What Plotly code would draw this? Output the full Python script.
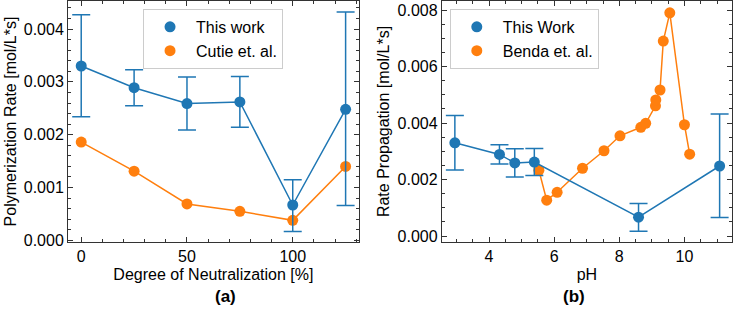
import plotly.graph_objects as go

# ---- data ----
neutralization = [0, 25, 50, 75, 100, 125]
this_work_rate = [0.00330, 0.00289, 0.00259, 0.00262, 0.00067, 0.00248]
this_work_upper = [0.00427, 0.00323, 0.00309, 0.00310, 0.00115, 0.00432]
this_work_lower = [0.00234, 0.00255, 0.00209, 0.00214, 0.00017, 0.00066]
cutie_rate = [0.00186, 0.00131, 0.00069, 0.00055, 0.00038, 0.00140]

this_work_ph = [2.95, 4.32, 4.79, 5.39, 8.59, 11.08]
benda_ph = [5.53, 5.77, 6.09, 6.87, 7.53, 8.02, 8.66, 8.81, 9.11, 9.12, 9.25, 9.35, 9.55, 10.0, 10.16]
benda_rate = [0.00233, 0.00127, 0.00155, 0.00240, 0.00302, 0.00355, 0.00385, 0.00399,
              0.00461, 0.00482, 0.00517, 0.00690, 0.00790, 0.00394, 0.00290]

BLUE = "#1f77b4"
ORANGE = "#ff7f0e"
FONT = "Liberation Sans, Arial, sans-serif"

err_plus = [u - v for u, v in zip(this_work_upper, this_work_rate)]
err_minus = [v - l for v, l in zip(this_work_rate, this_work_lower)]

fig = go.Figure()

def err():
    return dict(type="data", array=err_plus, arrayminus=err_minus, color=BLUE,
                thickness=1.5, width=9, visible=True)

# left panel
fig.add_trace(go.Scatter(x=neutralization, y=cutie_rate, mode="lines+markers",
                         line=dict(color=ORANGE, width=1.5), marker=dict(color=ORANGE, size=11),
                         showlegend=False, xaxis="x", yaxis="y"))
fig.add_trace(go.Scatter(x=neutralization, y=this_work_rate, mode="lines+markers",
                         line=dict(color=BLUE, width=1.5), marker=dict(color=BLUE, size=11),
                         error_y=err(), showlegend=False, xaxis="x", yaxis="y"))
# right panel
fig.add_trace(go.Scatter(x=benda_ph, y=benda_rate, mode="lines+markers",
                         line=dict(color=ORANGE, width=1.5), marker=dict(color=ORANGE, size=11),
                         showlegend=False, xaxis="x2", yaxis="y2"))
fig.add_trace(go.Scatter(x=this_work_ph, y=this_work_rate, mode="lines+markers",
                         line=dict(color=BLUE, width=1.5), marker=dict(color=BLUE, size=11),
                         error_y=err(), showlegend=False, xaxis="x2", yaxis="y2"))

# legend entries (markers only)
for name, col, lg in [("This work", BLUE, "legend"), ("Cutie et. al.", ORANGE, "legend"),
                      ("This Work", BLUE, "legend2"), ("Benda et. al.", ORANGE, "legend2")]:
    fig.add_trace(go.Scatter(x=[None], y=[None], mode="markers", name=name,
                             marker=dict(color=col, size=11), legend=lg,
                             xaxis="x" if lg == "legend" else "x2",
                             yaxis="y" if lg == "legend" else "y2"))

AX = "#333333"
def axis(**kw):
    d = dict(showline=True, linecolor=AX, linewidth=1, mirror="ticks", ticks="inside",
             ticklen=5, tickwidth=1, tickcolor=AX, showgrid=False, zeroline=False,
             tickfont=dict(size=16, color="black", family=FONT),
             title_font=dict(size=16, color="black", family=FONT),
             minor=dict(ticks="inside", ticklen=3, tickwidth=1, tickcolor=AX, showgrid=False))
    for k, v in kw.items():
        if k == "minor":
            d["minor"].update(v)
        else:
            d[k] = v
    return d

L0, L1 = 0.0, 0.438
R0, R1 = 0.563, 1.0

fig.update_layout(
    width=734, height=313,
    margin=dict(l=68, r=2, t=1, b=71),
    plot_bgcolor="white", paper_bgcolor="white",
    font=dict(family=FONT, size=16, color="black"),
    xaxis=axis(domain=[L0, L1], range=[-6.25, 131.25], tick0=0, dtick=50,
               minor=dict(dtick=10), title=dict(text="Degree of Neutralization [%]", standoff=4),
               anchor="y"),
    yaxis=axis(domain=[0, 1], range=[-0.00003, 0.00453], tick0=0, dtick=0.001, tickformat=".3f",
               minor=dict(dtick=0.0002), title=dict(text="Polymerization Rate [mol/L*s]", standoff=3),
               anchor="x"),
    xaxis2=axis(domain=[R0, R1], range=[2.55, 11.46], tick0=0, dtick=2,
                minor=dict(dtick=0.5), title=dict(text="pH", standoff=4), anchor="y2"),
    yaxis2=axis(domain=[0, 1], range=[-0.00021, 0.00832], tick0=0, dtick=0.002, tickformat=".3f",
                minor=dict(dtick=0.0005), title=dict(text="Rate Propagation [mol/L*s]", standoff=3),
                anchor="x2"),
    legend=dict(x=0.113, y=0.967, xanchor="left", yanchor="top", bgcolor="white",
                bordercolor="#cccccc", borderwidth=1, itemwidth=42,
                font=dict(size=16, family=FONT, color="black")),
    legend2=dict(x=0.575, y=0.967, xanchor="left", yanchor="top", bgcolor="white",
                 bordercolor="#cccccc", borderwidth=1, itemwidth=42,
                 font=dict(size=16, family=FONT, color="black")),
    annotations=[
        dict(text="<b>(a)</b>", x=(L0 + L1) / 2, y=-0.228, xref="paper", yref="paper",
             showarrow=False, font=dict(size=17, family=FONT, color="black"), yanchor="middle"),
        dict(text="<b>(b)</b>", x=(R0 + R1) / 2, y=-0.228, xref="paper", yref="paper",
             showarrow=False, font=dict(size=17, family=FONT, color="black"), yanchor="middle"),
    ],
)

fig.write_html("out.html")
